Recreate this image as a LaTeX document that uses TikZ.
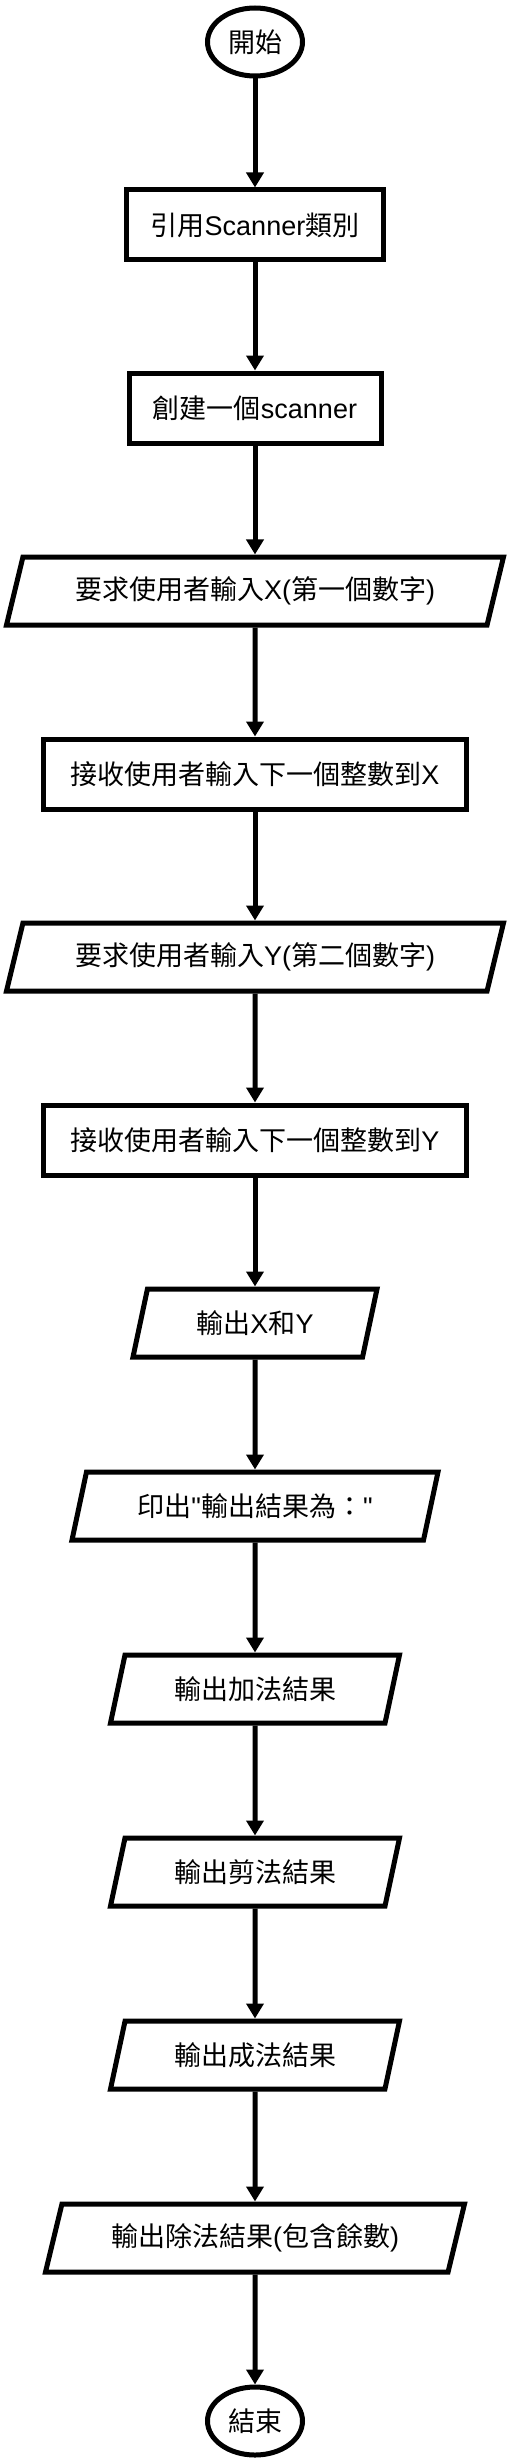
\documentclass[tikz,border=0pt]{standalone}
\usepackage{fontspec}
\newfontfamily\cjk{Noto Sans CJK TC}
\newfontfamily\lat{Liberation Sans}
\usetikzlibrary{positioning,shapes.geometric,arrows.meta}

\begin{document}
\begin{tikzpicture}[x=1pt,y=1pt,on grid,node distance=183pt,line width=5pt,
    font=\cjk\fontsize{27}{32}\selectfont,
    term/.style={draw,ellipse,minimum width=95pt,minimum height=68pt,inner sep=0pt},
    proc/.style={draw,rectangle,minimum height=70pt,inner sep=0pt},
    io/.style={draw,trapezium,trapezium left angle=60,trapezium right angle=120,
      trapezium stretches body,minimum height=68pt,inner sep=0pt},
    arr/.style={-{Triangle[width=17pt,length=15pt]}}]
      \useasboundingbox (0,0) rectangle (512,-2464);
      \node [term] (start) at (255,-42) {開始};
      \node [proc,minimum width=257pt,below=of start] (importsc) {引用{\lat Scanner}類別};
      \node [proc,minimum width=252pt,below=of importsc] (createsc) {創建一個{\lat scanner}};
      \node [io,minimum width=497pt,below=of createsc] (askx) {要求使用者輸入{\lat X(}第一個數字{\lat )}};
      \node [proc,minimum width=423pt,below=of askx] (readx) {接收使用者輸入下一個整數到{\lat X}};
      \node [io,minimum width=497pt,below=of readx] (asky) {要求使用者輸入{\lat Y(}第二個數字{\lat )}};
      \node [proc,minimum width=423pt,below=of asky] (ready) {接收使用者輸入下一個整數到{\lat Y}};
      \node [io,minimum width=244pt,below=of ready] (showxy) {輸出{\lat X}和{\lat Y}};
      \node [io,minimum width=366pt,below=of showxy] (printres) {印出{\lat "}輸出結果為：{\lat "}};
      \node [io,minimum width=289pt,below=of printres] (outadd) {輸出加法結果};
      \node [io,minimum width=289pt,below=of outadd] (outsub) {輸出剪法結果};
      \node [io,minimum width=289pt,below=of outsub] (outmul) {輸出成法結果};
      \node [io,minimum width=419pt,below=of outmul] (outdiv) {輸出除法結果{\lat (}包含餘數{\lat )}};
      \node [term,below=of outdiv] (stop) {結束};
      \draw [arr] (start) -- (importsc);
      \draw [arr] (importsc) -- (createsc);
      \draw [arr] (createsc) -- (askx);
      \draw [arr] (askx) -- (readx);
      \draw [arr] (readx) -- (asky);
      \draw [arr] (asky) -- (ready);
      \draw [arr] (ready) -- (showxy);
      \draw [arr] (showxy) -- (printres);
      \draw [arr] (printres) -- (outadd);
      \draw [arr] (outadd) -- (outsub);
      \draw [arr] (outsub) -- (outmul);
      \draw [arr] (outmul) -- (outdiv);
      \draw [arr] (outdiv) -- (stop);
\end{tikzpicture}
\end{document}
